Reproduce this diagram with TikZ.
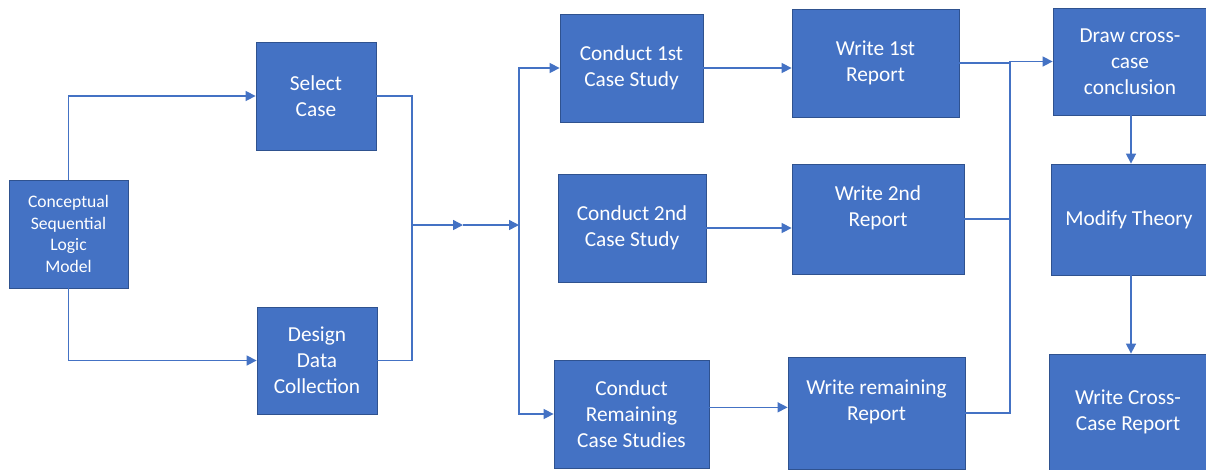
\documentclass[tikz,border=0pt]{standalone}
\usepackage{fontspec}
\setmainfont{Carlito}
\usepackage{tikz}
\usetikzlibrary{arrows.meta, positioning}
\definecolor{OfficeBlue}{HTML}{4472C4}
\definecolor{OfficeEdge}{HTML}{2F528F}

\begin{document}
\begin{tikzpicture}[x=0.75pt, y=-0.75pt,
  blk/.style 2 args={rectangle, draw=OfficeEdge, line width=0.6pt, fill=OfficeBlue,
     text=white, align=center, inner sep=0pt, minimum width=#1, minimum height=#2,
     font=\fontsize{16pt}{19.5pt}\selectfont},
  small/.style={font=\fontsize{13.2pt}{16.1pt}\selectfont},
  wire/.style={draw=OfficeBlue, line width=1.1pt},
  arr/.style={wire, -{Triangle[length=7.5pt, width=7.5pt]}}]
  \fill[white] (0,0) rectangle (1206,469);
  \useasboundingbox (0,0) rectangle (1206,469);
  % planning stage
  \node[blk={89.25pt}{81pt}, small] (clm) at (68.5,234) {Conceptual\\Sequential\\Logic\\Model};
  \node[blk={90pt}{81pt}] (sel) at (316,96) {Select\\Case};
  \node[blk={90pt}{80.25pt}] (ddc) at (317,360.5) {Design\\Data\\Collection};
  % case studies
  \node[blk={107.25pt}{81pt}] (cs1) at (631.5,68) {Conduct 1st\\Case Study};
  \node[blk={111pt}{81pt}] (cs2) at (632,228) {Conduct 2nd\\Case Study};
  \node[blk={116.25pt}{81pt}] (csr) at (631.5,414) {Conduct\\Remaining\\Case Studies};
  % reports
  \node[blk={125.25pt}{81pt}] (wr1) at (875.5,63) {Write 1st\\Report};
  \node[blk={129pt}{82.5pt}] (wr2) at (878,219) {Write 2nd\\Report\\~};
  \node[blk={132.75pt}{84pt}] (wrr) at (876.5,413) {Write remaining\\Report\\~};
  % cross-case analysis
  \node[blk={115.5pt}{80.25pt}] (dcc) at (1130,61.5) {Draw cross-\\case\\conclusion};
  \node[blk={117pt}{83.25pt}] (mth) at (1129,219.5) {Modify Theory};
  \node[blk={118.5pt}{87pt}] (wcc) at (1128,412) {Write Cross-\\Case Report};

  \coordinate (j1) at (412,225);
  \coordinate (jm) at (463,225);
  \coordinate (j2) at (519,225);
  \coordinate (j3) at (1010,0);
  \coordinate (j4) at (1131,0);

  \draw[arr] (clm.north) |- (sel.west);
  \draw[arr] (clm.south) |- (ddc.west);
  \draw[wire] (sel.east) -| (j1) |- (ddc.east);
  \draw[arr] (j1) -- (jm);
  \draw[arr] (jm) -- (j2);
  \draw[arr] (j2) |- (cs1.west);
  \draw[arr] (j2) |- (csr.west);
  \draw[arr] (cs1.east) -- (cs1.east -| wr1.west);
  \draw[arr] (cs2.east) -- (cs2.east -| wr2.west);
  \draw[arr] ([yshift=5pt]csr.east) -- ([yshift=5pt]csr.east -| wrr.west);
  \draw[wire] (wr1.east) -- (wr1.east -| j3);
  \draw[wire] (wr2.east) -- (wr2.east -| j3);
  \draw[arr] (wrr.east) -| (j3 |- dcc.west) -- (dcc.west);
  \draw[arr] (j4 |- dcc.south) -- (j4 |- mth.north);
  \draw[arr] (j4 |- mth.south) -- (j4 |- wcc.north);
\end{tikzpicture}
\end{document}
